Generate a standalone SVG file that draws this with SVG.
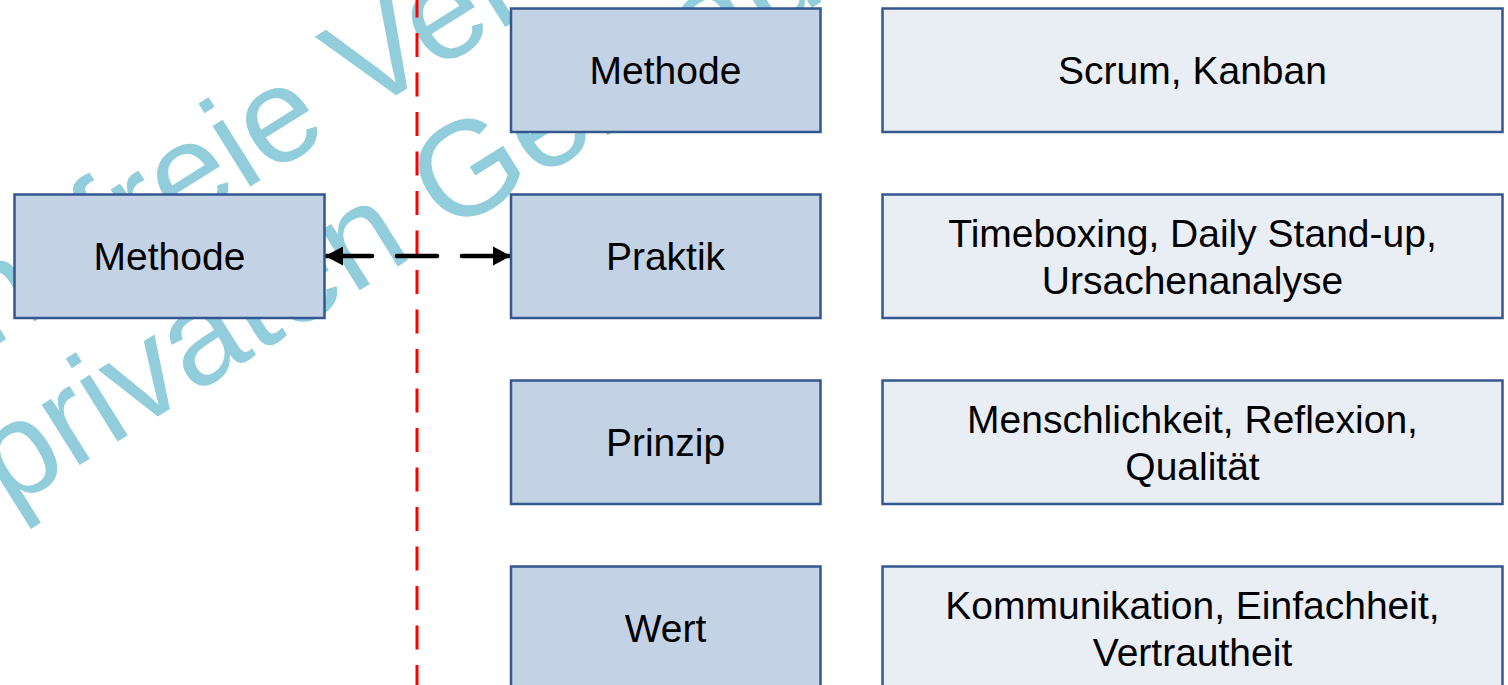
<svg xmlns="http://www.w3.org/2000/svg" width="1508" height="685" viewBox="0 0 1508 685">
  <style>
    .wm { font-family: "Liberation Sans", Arial, sans-serif; font-size: 135px; fill: #92CDDC; }
    .box { stroke: #34578F; stroke-width: 2.5; }
    .dark { fill: #C3D2E5; }
    .light { fill: #E9EDF4; }
    .lbl { font-family: "Liberation Sans", Arial, sans-serif; font-size: 39px; fill: #000; text-anchor: middle; }
    .divider { stroke: #FF0000; stroke-width: 3; stroke-dasharray: 24 15.5; stroke-dashoffset: 6.5; fill: none; }
    .link { stroke: #000; stroke-width: 4.5; fill: none; stroke-linecap: round; stroke-dasharray: 47 25 40 25 49; }
  </style>
  <defs>
    <marker id="head" markerUnits="userSpaceOnUse" markerWidth="20" markerHeight="20" refX="18" refY="10" orient="auto-start-reverse">
      <path d="M0,0.5 L18,10 L0,19.5 Z" fill="#000"/>
    </marker>
  </defs>

  <rect width="1508" height="685" fill="#FFFFFF"/>

  <!-- background watermark -->
  <g id="watermark" transform="translate(383,87) rotate(-32)">
    <text class="wm" x="-722" y="14">Lizenzfreie Verwendung</text>
    <text class="wm" x="-542" y="160">privaten Gebrauch</text>
  </g>

  <!-- vertical separator -->
  <line class="divider" x1="417" y1="0" x2="417" y2="685"/>

  <!-- connectors -->
  <g id="connectors">
    <path class="link" d="M325,256 H511" marker-start="url(#head)" marker-end="url(#head)"/>
  </g>

  <!-- left node -->
  <g id="node-methode-left">
    <rect class="box dark" x="14.5" y="194.5" width="310" height="123.5"/>
    <text class="lbl" x="169.5" y="270">Methode</text>
  </g>

  <!-- level column -->
  <g id="node-methode">
    <rect class="box dark" x="511" y="8.5" width="309.5" height="123.5"/>
    <text class="lbl" x="665.5" y="84">Methode</text>
  </g>
  <g id="node-praktik">
    <rect class="box dark" x="511" y="194.5" width="309.5" height="123.5"/>
    <text class="lbl" x="665.5" y="270">Praktik</text>
  </g>
  <g id="node-prinzip">
    <rect class="box dark" x="511" y="380.5" width="309.5" height="123.5"/>
    <text class="lbl" x="665.5" y="456">Prinzip</text>
  </g>
  <g id="node-wert">
    <rect class="box dark" x="511" y="566.5" width="309.5" height="123.5"/>
    <text class="lbl" x="665.5" y="642">Wert</text>
  </g>

  <!-- example column -->
  <g id="node-ex-methode">
    <rect class="box light" x="882.5" y="8.5" width="620" height="123.5"/>
    <text class="lbl" x="1192.5" y="84">Scrum, Kanban</text>
  </g>
  <g id="node-ex-praktik">
    <rect class="box light" x="882.5" y="194.5" width="620" height="123.5"/>
    <text class="lbl" x="1192.5" y="247">Timeboxing, Daily Stand-up,</text>
    <text class="lbl" x="1192.5" y="294">Ursachenanalyse</text>
  </g>
  <g id="node-ex-prinzip">
    <rect class="box light" x="882.5" y="380.5" width="620" height="123.5"/>
    <text class="lbl" x="1192.5" y="433">Menschlichkeit, Reflexion,</text>
    <text class="lbl" x="1192.5" y="480">Qualität</text>
  </g>
  <g id="node-ex-wert">
    <rect class="box light" x="882.5" y="566.5" width="620" height="123.5"/>
    <text class="lbl" x="1192.5" y="619">Kommunikation, Einfachheit,</text>
    <text class="lbl" x="1192.5" y="666">Vertrautheit</text>
  </g>
</svg>
